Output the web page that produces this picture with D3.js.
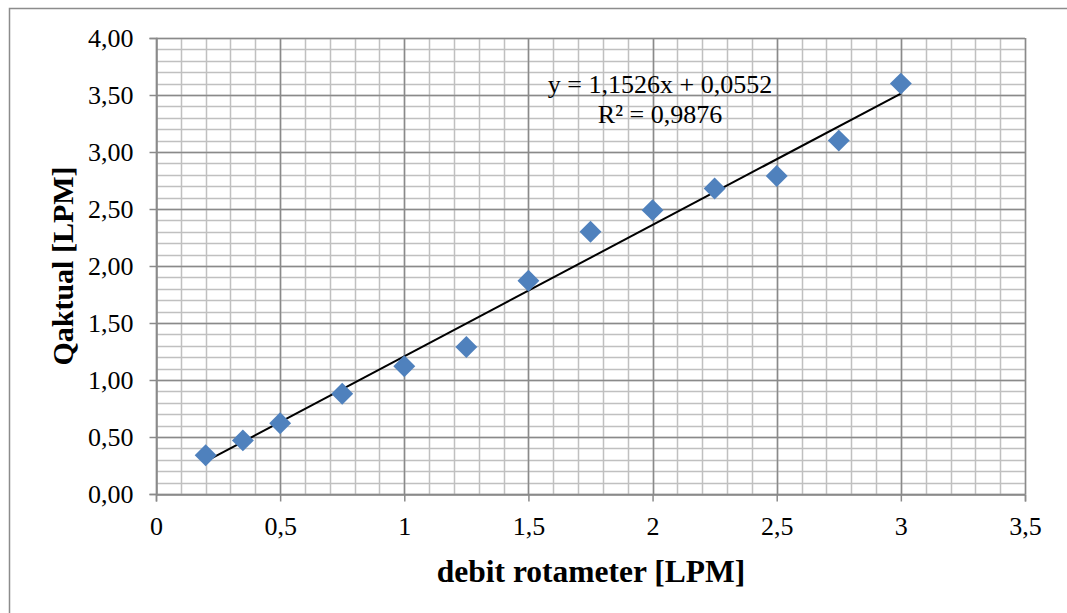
<!DOCTYPE html>
<html>
<head>
<meta charset="utf-8">
<script src="https://cdn.jsdelivr.net/npm/d3@7"></script>
<style>
  body { margin: 0; background: #fff; }
  text { font-family: "Liberation Serif", "Times New Roman", serif; }
</style>
</head>
<body>
<svg id="chart" width="1067" height="613"></svg>
<script>

var debit = [0.2, 0.35, 0.5, 0.75, 1, 1.25, 1.5, 1.75, 2, 2.25, 2.5, 2.75, 3]

var qaktual = [0.34, 0.47, 0.62, 0.88, 1.12, 1.29, 1.87, 2.30, 2.49, 2.68, 2.79, 3.10, 3.60]

var xTicks = [0, 0.5, 1, 1.5, 2, 2.5, 3, 3.5]

var yTicks = [0, 0.5, 1, 1.5, 2, 2.5, 3, 3.5, 4]

var slope = 1.1526
var intercept = 0.0552

var svg = d3.select('#chart')

// outer chart border (right and bottom fall off the picture)
svg.append("rect")
        .attr("x", 9.5)
        .attr("y", 8.5)
        .attr("width", 1100)
        .attr("height", 700)
        .attr("fill", "none")
        .attr("stroke", "#8c8c8c")
        .attr("stroke-width", 1.5)

var x = d3.scaleLinear().domain([0, 3.5]).range([156, 1025])
var y = d3.scaleLinear().domain([0, 4]).range([494, 38])

var grid = svg.append("g")

// minor grid every 0.1
grid.selectAll(".vminor")
        .data(d3.range(0, 36).map(function(i){ return i / 10 }))
        .enter()
        .append("line")
        .attr("x1", function(d){ return Math.round(x(d)) + 0.5 })
        .attr("x2", function(d){ return Math.round(x(d)) + 0.5 })
        .attr("y1", y(4))
        .attr("y2", y(0))
        .attr("stroke", "#c0c0c0")
        .attr("stroke-width", 1.5)

grid.selectAll(".hminor")
        .data(d3.range(0, 41).map(function(i){ return i / 10 }))
        .enter()
        .append("line")
        .attr("x1", x(0))
        .attr("x2", x(3.5))
        .attr("y1", function(d){ return Math.round(y(d)) + 0.5 })
        .attr("y2", function(d){ return Math.round(y(d)) + 0.5 })
        .attr("stroke", "#c0c0c0")
        .attr("stroke-width", 1.5)

// major grid
grid.selectAll(".vmajor")
        .data(xTicks)
        .enter()
        .append("line")
        .attr("x1", function(d){ return Math.round(x(d)) + 0.5 })
        .attr("x2", function(d){ return Math.round(x(d)) + 0.5 })
        .attr("y1", y(4))
        .attr("y2", y(0))
        .attr("stroke", "#8a8a8a")
        .attr("stroke-width", 1.5)

grid.selectAll(".hmajor")
        .data(yTicks)
        .enter()
        .append("line")
        .attr("x1", x(0))
        .attr("x2", x(3.5))
        .attr("y1", function(d){ return Math.round(y(d)) + 0.5 })
        .attr("y2", function(d){ return Math.round(y(d)) + 0.5 })
        .attr("stroke", "#8a8a8a")
        .attr("stroke-width", 1.5)

var xAxis = svg.append("g")
        .attr("transform", "translate(0," + (Math.round(y(0)) + 0.5) + ")")
        .call(d3.axisBottom(x).tickValues(xTicks).tickSize(7).tickPadding(15)
                .tickFormat(function(d){ return String(d).replace(".", ",") }))

var yAxis = svg.append("g")
        .attr("transform", "translate(" + (Math.round(x(0)) + 0.5) + ",0)")
        .call(d3.axisLeft(y).tickValues(yTicks).tickSize(7).tickPadding(16)
                .tickFormat(function(d){ return d.toFixed(2).replace(".", ",") }))

svg.selectAll(".domain, .tick line")
        .attr("stroke", "#8a8a8a")
        .attr("stroke-width", 1.5)

svg.selectAll(".tick text")
        .attr("font-family", "Liberation Serif")
        .attr("font-size", "26px")
        .attr("fill", "#000")

// trendline
svg.append("line")
        .attr("x1", x(0.2))
        .attr("y1", y(slope * 0.2 + intercept))
        .attr("x2", x(3))
        .attr("y2", y(slope * 3 + intercept))
        .attr("stroke", "#000")
        .attr("stroke-width", 2)

// points
svg.selectAll(".pt")
        .data(debit)
        .enter()
        .append("path")
        .attr("d", d3.symbol().type(d3.symbolSquare).size(240))
        .attr("transform", function(d, i){ return "translate(" + x(d) + "," + y(qaktual[i]) + ") rotate(45)" })
        .attr("fill", "#4f81bd")

svg.append("text")
        .attr("x", 660)
        .attr("y", 93)
        .attr("text-anchor", "middle")
        .attr("font-size", "26px")
        .text("y = 1,1526x + 0,0552")

svg.append("text")
        .attr("x", 660)
        .attr("y", 123)
        .attr("text-anchor", "middle")
        .attr("font-size", "26px")
        .text("R² = 0,9876")

svg.append("text")
        .attr("x", 591)
        .attr("y", 582)
        .attr("text-anchor", "middle")
        .attr("font-size", "31.5px")
        .attr("font-weight", "bold")
        .text("debit rotameter [LPM]")

svg.append("text")
        .attr("transform", "translate(73,266) rotate(-90)")
        .attr("text-anchor", "middle")
        .attr("font-size", "30px")
        .attr("font-weight", "bold")
        .text("Qaktual [LPM]")

</script>
</body>
</html>
